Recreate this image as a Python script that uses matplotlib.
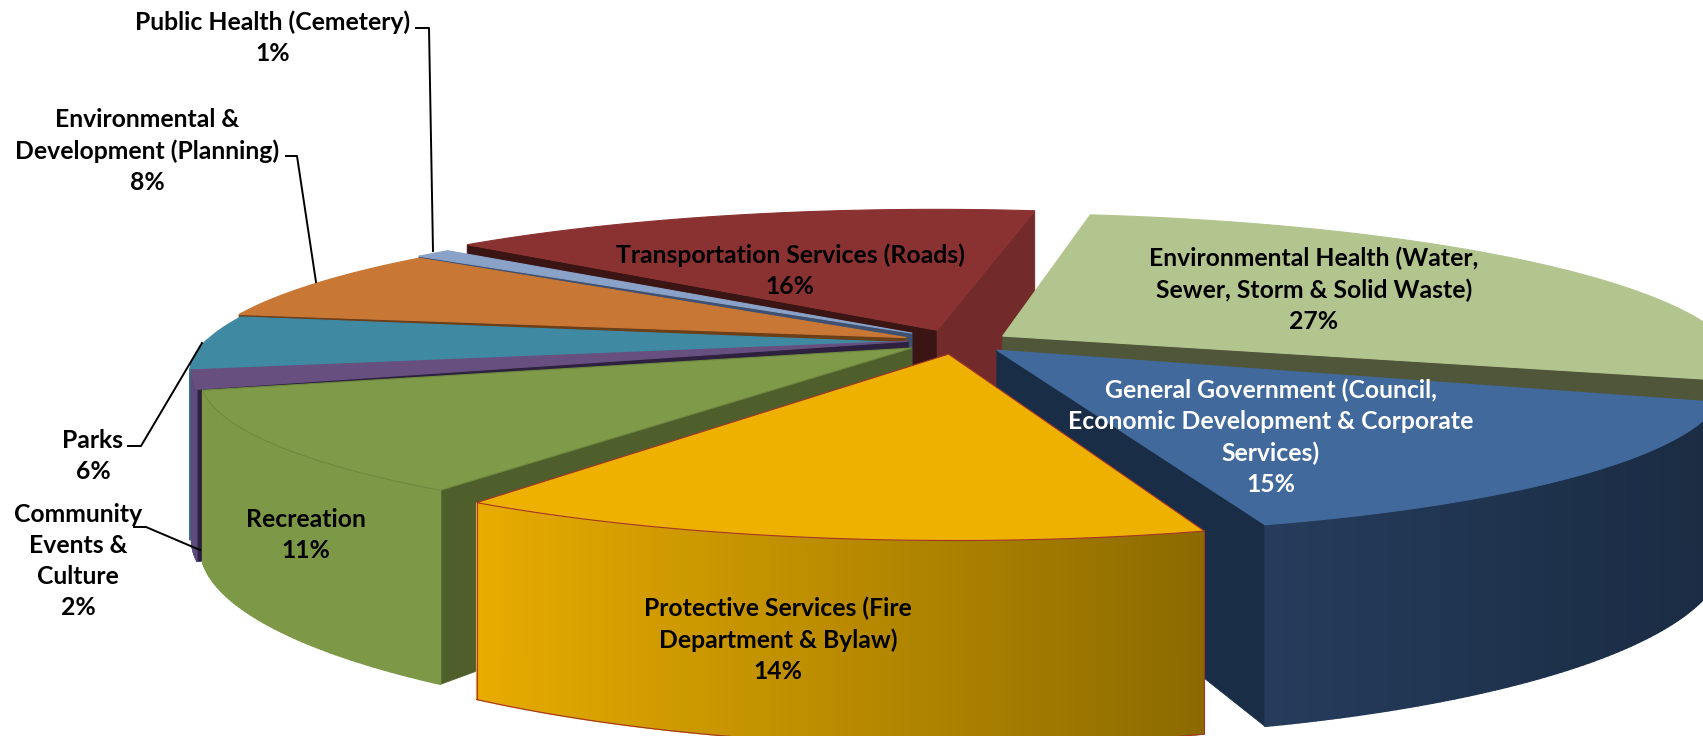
import numpy as np
import matplotlib
matplotlib.use('Agg')
import matplotlib.pyplot as plt
from matplotlib.collections import PolyCollection
from matplotlib.colors import to_rgb

# budget shares, clockwise from the Roads slice
names = ['Transportation Services (Roads)',
         'Environmental Health (Water,\nSewer, Storm & Solid Waste)',
         'General Government (Council,\nEconomic Development & Corporate\nServices)',
         'Protective Services (Fire\nDepartment & Bylaw)',
         'Recreation',
         'Community\nEvents &\nCulture',
         'Parks',
         'Environmental &\nDevelopment (Planning)',
         'Public Health (Cemetery)']
values = [16, 27, 15, 14, 11, 2, 6, 8, 1]

# how far each slice is pulled out of the pie, in plan units
shift_x = [0.017, 0.108, 0.098, 0.032, -0.018, -0.023, -0.023, -0.026, -0.018]
shift_y = [0.080, 0.040, -0.054, -0.080, -0.040, 0.005, -0.005, 0.030, 0.060]
radius = [1.0, 1.0, 0.97, 0.97, 0.955, 0.97, 0.97, 0.97, 0.97]
turn = [-1.0, -1.0, 1.5, 1.7, 2.2, 0.0, 0.0, -1.0, -2.0]

top_col = ['#8a3231', '#b3c58e', '#41699b', '#efb100', '#7f9a48', '#67507f', '#3f89a3', '#c97735', '#8aa2c8']
cut_col = ['#3b1414', '#50563a', '#1a2d46', '#a07c00', '#4f5f2c', '#2e2140', '#1c4a58', '#6b3f18', '#3f5070']
end_col = ['#722a2a', '#50563a', '#1a2d46', '#a07c00', '#4f5f2c', '#2e2140', '#1c4a58', '#6b3f18', '#3f5070']
wall_l = ['#722a2a', '#a0b07c', '#253c5c', '#e8ac00', '#7d9947', '#5e4a7f', '#35758b', '#a9632b', '#6f84a8']
wall_r = ['#722a2a', '#a0b07c', '#1a2b42', '#8b6a00', '#7d9947', '#5e4a7f', '#35758b', '#a9632b', '#6f84a8']
edge_col = [None, None, None, '#a5342a', '#6f8a3f', None, None, None, None]
text_col = ['black', 'black', 'white', 'black', 'black', 'black', 'black', 'black', 'black']

label_x = [790, 1314, 1271, 778, 306, 78, 93, 147, 273]
label_y = [271, 290, 437, 640, 535, 561, 456, 151, 38]

# leader lines for the small outside labels
leaders = [([134, 146, 200], [527, 527, 550]),
           ([128, 141, 202], [446, 446, 343]),
           ([286, 297, 316], [156, 156, 282]),
           ([416, 429, 433], [28, 28, 251])]

start_angle = 313.0
cx, cy, R, H = 925, 342, 725, 162
tilt, depth = 0.206, 5.0
draw_order = [0, 8, 7, 6, 5, 4, 1, 2, 3]


def project(px, py, z=0.0):
    s = depth / (depth + py)
    return cx + R * px * s, cy - R * tilt * py * s + H * s * z


fig = plt.figure(figsize=(17.03, 7.36), dpi=100)
ax = fig.add_axes([0, 0, 1, 1])
ax.set_xlim(0, 1703)
ax.set_ylim(736, 0)
ax.axis('off')

edges = start_angle + 3.6 * np.concatenate([[0], np.cumsum(values)])

for order, i in enumerate(draw_order):
    zo = 1 + order
    a0, a1 = np.radians(edges[i] + turn[i]), np.radians(edges[i + 1] + turn[i])
    ox, oy = shift_x[i], shift_y[i]
    t = np.linspace(a0, a1, max(int(values[i] * 6), 12))
    px, py = ox + radius[i] * np.sin(t), oy + radius[i] * np.cos(t)

    xt, yt = project(px, py, 0)
    xb, yb = project(px, py, 1)
    ax_t, ay_t = project(ox, oy, 0)
    ax_b, ay_b = project(ox, oy, 1)

    # cut faces, only the ones turned towards the viewer
    if np.sin(a0) < 0:
        ax.fill([ax_t, xt[0], xb[0], ax_b], [ay_t, yt[0], yb[0], ay_b], color=cut_col[i], lw=0.5, zorder=zo)
    if np.sin(a1) > 0:
        ax.fill([ax_t, xt[-1], xb[-1], ax_b], [ay_t, yt[-1], yb[-1], ay_b], color=end_col[i], lw=0.5, zorder=zo)

    # outer wall, shaded left to right; the far side of the rim is skipped
    quads, cols = [], []
    c0, c1 = np.array(to_rgb(wall_l[i])), np.array(to_rgb(wall_r[i]))
    lo, hi = xt.min(), xt.max()
    for j in range(len(t) - 1):
        if np.cos((t[j] + t[j + 1]) / 2) > 0.02:
            continue
        quads.append([(xt[j], yt[j]), (xt[j + 1], yt[j + 1]), (xb[j + 1], yb[j + 1]), (xb[j], yb[j])])
        f = ((xt[j] + xt[j + 1]) / 2 - lo) / max(hi - lo, 1)
        cols.append(c0 + (c1 - c0) * f)
    if quads:
        ax.add_collection(PolyCollection(quads, facecolors=cols, edgecolors=cols, linewidths=1.0, zorder=zo))

    # top face
    ec = edge_col[i] if edge_col[i] else top_col[i]
    ax.fill(np.r_[ax_t, xt], np.r_[ay_t, yt], facecolor=top_col[i], edgecolor=ec, lw=0.8, zorder=zo)

    if edge_col[i] == '#a5342a':
        ax.plot(np.r_[xt[0], xb], np.r_[yt[0], yb], color=ec, lw=0.8, zorder=zo)
        ax.plot([xt[-1], xb[-1]], [yt[-1], yb[-1]], color=ec, lw=0.8, zorder=zo)

for lx, ly in leaders:
    ax.plot(lx, ly, color='black', lw=1.4, zorder=20)

for i in range(len(names)):
    ax.text(label_x[i], label_y[i], f'{names[i]}\n{values[i]}%', ha='center', va='center', ma='center',
            family=['Lato', 'DejaVu Sans'], fontweight='bold', fontsize=17.8, color=text_col[i], linespacing=1.43, zorder=30)

fig.savefig('out.png', dpi=100)
